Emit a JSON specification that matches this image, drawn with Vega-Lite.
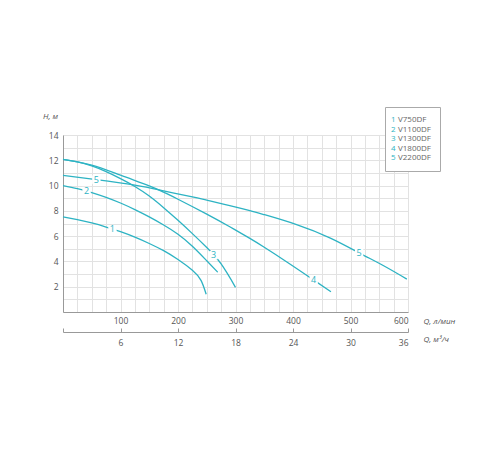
{
  "$schema": "https://vega.github.io/schema/vega-lite/v6.json",
  "width": 345,
  "height": 177,
  "autosize": "none",
  "padding": {"left": 63, "top": 135, "right": 92, "bottom": 138},
  "background": "white",
  "config": {
    "view": {"stroke": null},
    "font": "Open Sans",
    "axis": {
      "labelFont": "Open Sans",
      "labelFontSize": 8.5,
      "labelColor": "#555",
      "titleFont": "Open Sans",
      "titleFontSize": 8,
      "titleFontWeight": "normal",
      "titleFontStyle": "italic",
      "titleColor": "#555",
      "domainColor": "#999",
      "gridColor": "#e2e2e2",
      "tickColor": "#999"
    }
  },
  "datasets": {
    "curves": [
      {"num": "1", "q": 0, "h": 7.53},
      {"num": "1", "q": 25, "h": 7.3},
      {"num": "1", "q": 50, "h": 7.04},
      {"num": "1", "q": 75, "h": 6.72},
      {"num": "1", "q": 100, "h": 6.35},
      {"num": "1", "q": 125, "h": 5.92},
      {"num": "1", "q": 150, "h": 5.42},
      {"num": "1", "q": 175, "h": 4.85},
      {"num": "1", "q": 200, "h": 4.15},
      {"num": "1", "q": 225, "h": 3.3},
      {"num": "1", "q": 240, "h": 2.5},
      {"num": "1", "q": 249, "h": 1.4},
      {"num": "2", "q": 0, "h": 10.0},
      {"num": "2", "q": 25, "h": 9.76},
      {"num": "2", "q": 50, "h": 9.45},
      {"num": "2", "q": 75, "h": 9.07},
      {"num": "2", "q": 100, "h": 8.62},
      {"num": "2", "q": 125, "h": 8.1},
      {"num": "2", "q": 150, "h": 7.52},
      {"num": "2", "q": 175, "h": 6.88},
      {"num": "2", "q": 200, "h": 6.15},
      {"num": "2", "q": 225, "h": 5.2},
      {"num": "2", "q": 250, "h": 4.05},
      {"num": "2", "q": 269, "h": 3.15},
      {"num": "3", "q": 0, "h": 12.08},
      {"num": "3", "q": 25, "h": 11.87},
      {"num": "3", "q": 50, "h": 11.55},
      {"num": "3", "q": 75, "h": 11.1},
      {"num": "3", "q": 100, "h": 10.55},
      {"num": "3", "q": 125, "h": 9.93},
      {"num": "3", "q": 150, "h": 9.17},
      {"num": "3", "q": 175, "h": 8.25},
      {"num": "3", "q": 200, "h": 7.25},
      {"num": "3", "q": 225, "h": 6.2},
      {"num": "3", "q": 250, "h": 5.1},
      {"num": "3", "q": 275, "h": 3.8},
      {"num": "3", "q": 300, "h": 1.95},
      {"num": "4", "q": 0, "h": 12.08},
      {"num": "4", "q": 50, "h": 11.62},
      {"num": "4", "q": 100, "h": 10.82},
      {"num": "4", "q": 150, "h": 9.98},
      {"num": "4", "q": 175, "h": 9.48},
      {"num": "4", "q": 200, "h": 8.92},
      {"num": "4", "q": 250, "h": 7.74},
      {"num": "4", "q": 290, "h": 6.74},
      {"num": "4", "q": 325, "h": 5.82},
      {"num": "4", "q": 350, "h": 5.12},
      {"num": "4", "q": 390, "h": 3.94},
      {"num": "4", "q": 435, "h": 2.56},
      {"num": "4", "q": 466, "h": 1.6},
      {"num": "5", "q": 0, "h": 10.8},
      {"num": "5", "q": 58, "h": 10.47},
      {"num": "5", "q": 125, "h": 10.03},
      {"num": "5", "q": 175, "h": 9.58},
      {"num": "5", "q": 225, "h": 9.1},
      {"num": "5", "q": 250, "h": 8.84},
      {"num": "5", "q": 290, "h": 8.42},
      {"num": "5", "q": 325, "h": 8.02},
      {"num": "5", "q": 350, "h": 7.7},
      {"num": "5", "q": 405, "h": 6.93},
      {"num": "5", "q": 465, "h": 5.85},
      {"num": "5", "q": 515, "h": 4.68},
      {"num": "5", "q": 560, "h": 3.6},
      {"num": "5", "q": 598, "h": 2.6}
    ],
    "labels": [
      {"num": "1", "name": "V750DF", "q": 86, "h": 6.55},
      {"num": "2", "name": "V1100DF", "q": 41, "h": 9.57},
      {"num": "3", "name": "V1300DF", "q": 262, "h": 4.5},
      {"num": "4", "name": "V1800DF", "q": 436, "h": 2.55},
      {"num": "5", "name": "V2200DF", "q": 58, "h": 10.47},
      {"num": "5", "name": "V2200DF", "q": 515, "h": 4.68}
    ]
  },
  "layer": [
    {
      "encoding": {
        "x": {
          "field": "q",
          "type": "quantitative",
          "scale": {"domain": [0, 600], "nice": false},
          "axis": {
            "values": [0, 25, 50, 75, 100, 125, 150, 175, 200, 225, 250, 275, 300, 325, 350, 375, 400, 425, 450, 475, 500, 525, 550, 575, 600],
            "labelExpr": "datum.value > 0 && datum.value % 100 == 0 ? datum.label : ''",
            "ticks": false,
            "labelPadding": 4,
            "title": "Q, л/мин",
            "titleX": 360,
            "titleY": 9,
            "titleAlign": "left",
            "titleBaseline": "middle"
          }
        },
        "y": {
          "field": "h",
          "type": "quantitative",
          "scale": {"domain": [0, 14], "nice": false},
          "axis": {
            "values": [0, 1, 2, 3, 4, 5, 6, 7, 8, 9, 10, 11, 12, 13, 14],
            "labelExpr": "datum.value > 0 && datum.value % 2 == 0 ? datum.label : ''",
            "ticks": false,
            "labelPadding": 5,
            "title": "H, м",
            "titleAngle": 0,
            "titleX": -13,
            "titleY": -19,
            "titleAlign": "center",
            "titleBaseline": "middle"
          }
        }
      },
      "layer": [
        {
          "data": {"name": "curves"},
          "mark": {"type": "line", "interpolate": "natural", "strokeWidth": 1.3},
          "encoding": {
            "color": {
              "field": "num",
              "type": "nominal",
              "scale": {"range": ["#2db3c3", "#2db3c3", "#2db3c3", "#2db3c3", "#2db3c3"]},
              "legend": {
                "orient": "none",
                "legendX": 320,
                "legendY": -19,
                "zindex": 2,
                "title": null,
                "padding": 0,
                "symbolSize": 0,
                "symbolOpacity": 0,
                "symbolStrokeWidth": 0,
                "labelOffset": 0,
                "labelFont": "Open Sans",
                "labelFontSize": 8,
                "labelColor": "#2db3c3",
                "rowPadding": 1.5
              }
            }
          }
        },
        {
          "data": {"name": "labels"},
          "mark": {"type": "point", "filled": true, "color": "white", "opacity": 1, "size": 70},
          "encoding": {
            "shape": {
              "field": "name",
              "type": "nominal",
              "scale": {
                "domain": ["V750DF", "V1100DF", "V1300DF", "V1800DF", "V2200DF"],
                "range": ["square", "square", "square", "square", "square"]
              },
              "legend": {
                "orient": "none",
                "legendX": 322,
                "legendY": -28,
                "zindex": 1,
                "title": null,
                "padding": 9,
                "strokeColor": "#aaa",
                "fillColor": "white",
                "symbolSize": 0,
                "symbolOpacity": 0,
                "symbolStrokeWidth": 0,
                "labelOffset": -4,
                "labelFont": "Open Sans",
                "labelFontSize": 8,
                "labelColor": "#666",
                "rowPadding": 1.5
              }
            }
          }
        },
        {
          "data": {"name": "labels"},
          "mark": {"type": "text", "fontSize": 9, "font": "Open Sans", "baseline": "middle", "align": "center"},
          "encoding": {
            "text": {"field": "num"},
            "color": {"field": "num", "type": "nominal"}
          }
        }
      ]
    },
    {
      "data": {"values": [{"m3": 0}, {"m3": 36}]},
      "mark": {"type": "point", "opacity": 0},
      "encoding": {
        "x": {
          "field": "m3",
          "type": "quantitative",
          "scale": {"domain": [0, 36], "nice": false},
          "axis": {
            "orient": "bottom",
            "offset": 20,
            "values": [0, 6, 12, 18, 24, 30, 36],
            "labelExpr": "datum.value > 0 ? datum.label : ''",
            "grid": false,
            "tickSize": -4,
            "labelPadding": 10,
            "title": "Q, м³/ч",
            "titleX": 360,
            "titleY": 7,
            "titleAlign": "left",
            "titleBaseline": "middle"
          }
        }
      }
    }
  ],
  "resolve": {"scale": {"x": "independent"}, "axis": {"x": "independent"}}
}
